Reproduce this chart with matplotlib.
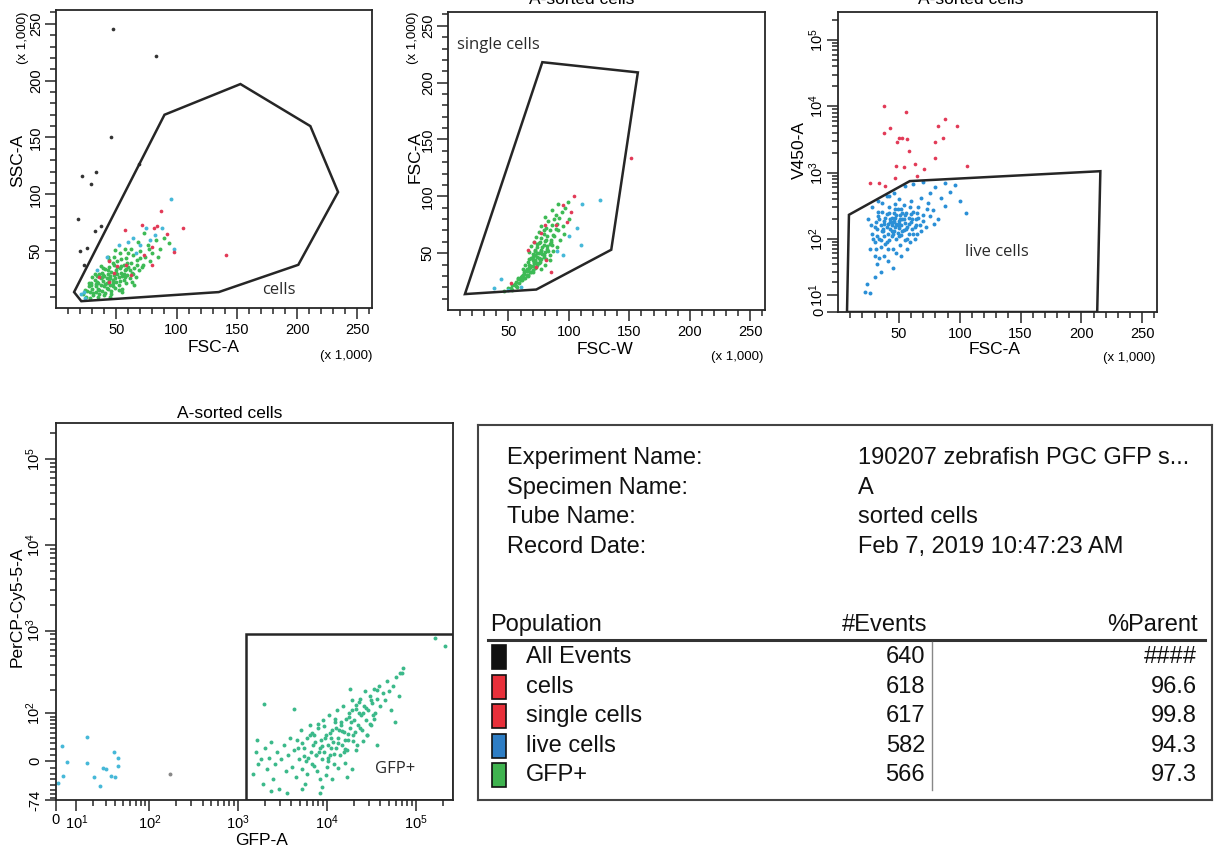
import numpy as np
import matplotlib.pyplot as plt
from matplotlib.patches import Polygon, Rectangle

plt.rcParams['font.family'] = ['Liberation Sans', 'DejaVu Sans']
plt.rcParams['mathtext.fontset'] = 'custom'
plt.rcParams['mathtext.rm'] = 'Liberation Sans'
plt.rcParams['mathtext.it'] = 'Liberation Sans:italic'
plt.rcParams['mathtext.bf'] = 'Liberation Sans:bold'

# ---------------- gates (FSC / SSC values in thousands) ----------------
cells_gate_x = [15, 21, 135, 201, 234, 211, 153, 90]
cells_gate_y = [14, 6, 14, 38, 102, 160, 197, 170]
single_gate_x = [14, 73, 135, 157, 78]
single_gate_y = [14, 18, 53, 209, 218]
live_gate_x = [7.4, 9, 59, 215.6, 213]
live_gate_y = [0, 232, 747, 1053, 0]
gfp_gate_x = [1230, 1230, 262144, 262144]
gfp_gate_y = [-74, 900, 900, -74]

# ---------------- panel 1: FSC-A vs SSC-A (x1000) ----------------
p1_green_x = [22, 24, 25, 27, 28, 29, 30, 31, 32, 33, 33, 34, 35, 35, 36, 37, 37, 38, 38, 39,
              40, 40, 41, 41, 42, 42, 43, 43, 44, 44, 45, 45, 46, 46, 47, 47, 48, 48, 49, 49,
              50, 50, 51, 51, 52, 52, 53, 53, 54, 55, 55, 56, 56, 57, 58, 58, 59, 60, 61, 62,
              63, 64, 65, 66, 67, 69, 70, 72, 74, 76, 78, 80, 83, 86, 90, 94,
              39, 44, 30, 36, 48, 53, 62, 68, 57, 73, 46, 55, 65, 28,
              26, 29, 31, 34, 36, 39, 41, 43, 45, 47, 50, 52, 54, 57, 59, 61, 64, 67, 70,
              33, 38, 42, 47, 51, 56, 60, 27, 32, 37, 43, 49, 54, 58, 63, 71, 77, 85, 45, 40, 35]
p1_green_y = [12, 16, 10, 19, 14, 22, 17, 11, 25, 19, 14, 28, 22, 17, 12, 26, 20, 31, 15, 24,
              19, 28, 13, 34, 22, 26, 17, 30, 24, 36, 20, 28, 15, 32, 25, 22, 38, 29, 18, 26,
              33, 23, 30, 41, 20, 27, 35, 24, 31, 17, 28, 38, 25, 33, 22, 44, 29, 36, 26, 40,
              31, 47, 35, 27, 42, 33, 50, 38, 45, 55, 41, 48, 60, 52, 62, 57,
              35, 42, 27, 30, 45, 48, 52, 58, 52, 66, 12, 14, 20, 9,
              15, 20, 13, 23, 16, 29, 21, 33, 26, 19, 31, 16, 37, 27, 40, 33, 30, 38, 44,
              21, 27, 18, 40, 36, 30, 48, 22, 30, 37, 45, 51, 43, 34, 23, 36, 52, 45, 10, 11, 10]
p1_blue_x = [95, 21, 24, 70, 82, 60, 66, 75, 88, 98, 42, 52, 34, 23, 78, 64]
p1_blue_y = [96, 12, 9, 55, 64, 58, 48, 70, 70, 52, 45, 55, 33, 14, 60, 62]
p1_red_x = [57, 71, 81, 84, 87, 92, 105, 80, 98, 141, 73, 58, 51, 44, 62, 48, 36, 80, 44]
p1_red_y = [69, 73, 70, 72, 85, 65, 70, 54, 49, 47, 47, 38, 37, 41, 29, 31, 27, 38, 23]
p1_black_x = [47.5, 83, 45.6, 21.9, 33, 29, 18, 37, 32.6, 26, 20, 23.5, 69]
p1_black_y = [245, 222, 150, 116, 120, 109, 78, 72, 68, 53, 50, 38, 127]

# ---------------- panel 2: FSC-W vs FSC-A (x1000) ----------------
p2_green_x = [46, 50, 53, 53, 56, 59, 56, 61, 58, 64, 61, 66, 63, 68, 65, 70, 62, 67, 72, 69,
              64, 74, 71, 66, 76, 72, 67, 77, 69, 74, 79, 70, 75, 67, 80, 72, 77, 82, 74, 69,
              79, 84, 75, 71, 80, 85, 77, 73, 82, 87, 79, 75, 84, 89, 81, 77, 86, 90, 83, 88,
              92, 80, 89, 94, 86, 97, 91, 99,
              65, 70, 74, 78, 72, 76, 67, 63, 71, 74, 81, 72, 59, 66, 79, 68, 75, 62, 70, 77,
              55, 58, 62, 66, 70, 73, 76, 79, 83, 86, 60, 64, 68, 72, 75, 78, 82, 85, 88, 91,
              57, 63, 69, 73, 77, 81, 84, 87, 93, 95, 52, 55, 60, 65, 70, 80, 84, 90, 96, 100]
p2_green_y = [17, 19, 18, 22, 21, 24, 25, 26, 28, 28, 30, 31, 32, 33, 34, 35, 36, 37, 37, 39,
              40, 40, 41, 42, 42, 44, 45, 45, 46, 47, 48, 49, 50, 51, 51, 52, 53, 54, 55, 56,
              57, 58, 59, 60, 61, 62, 63, 64, 65, 66, 67, 69, 70, 71, 72, 74, 75, 76, 78, 80,
              81, 82, 84, 86, 88, 90, 93, 95,
              36, 44, 50, 55, 48, 60, 40, 33, 42, 58, 62, 53, 27, 30, 70, 38, 46, 29, 47, 52,
              23, 27, 31, 35, 39, 41, 44, 47, 52, 57, 29, 34, 38, 43, 41, 49, 56, 60, 65, 70,
              20, 28, 33, 38, 36, 45, 48, 52, 62, 74, 19, 22, 26, 31, 33, 40, 44, 55, 67, 80]
p2_blue_x = [126, 111, 44, 38, 107, 110, 90, 100, 60, 50, 95]
p2_blue_y = [97, 93, 27, 19, 72, 57, 52, 65, 20, 18, 48]
p2_red_x = [104, 95, 102, 98, 80, 89, 77, 71, 66, 81, 52, 151, 85, 73]
p2_red_y = [100, 92, 86, 77, 75, 75, 68, 60, 53, 44, 24, 134, 33, 38]

# ---------------- panel 3: FSC-A (x1000) vs V450-A ----------------
p3_blue_x = [28, 30, 31, 32, 33, 34, 35, 35, 36, 37, 38, 38, 39, 40, 40, 41, 41, 42, 42, 43,
             43, 44, 44, 45, 45, 46, 46, 47, 47, 48, 48, 49, 49, 50, 50, 51, 51, 52, 52, 53,
             54, 54, 55, 55, 56, 57, 58, 58, 60, 60, 61, 62, 63, 64, 66, 67, 68, 70, 72, 74,
             76, 78, 80, 82, 85, 88, 92, 96, 100, 105,
             22, 24, 26, 30, 32, 35, 38, 41, 45, 48, 30, 26, 34, 52, 57,
             28, 25, 33, 40, 46, 55, 62, 70, 88, 50, 36, 42,
             30, 32, 34, 36, 38, 40, 42, 44, 46, 48, 50, 52, 54, 56, 58, 60, 62, 64, 66, 68,
             31, 33, 37, 39, 43, 45, 47, 49, 51, 53, 55, 57, 59, 61, 63, 65, 70, 73, 76, 79,
             27, 29, 35, 41, 47, 53, 59, 65, 44, 50]
p3_blue_y = [120, 90, 180, 140, 220, 100, 160, 75, 260, 130, 190, 110, 85, 150, 240, 170, 120, 95, 300, 200,
             140, 160, 110, 180, 70, 130, 250, 150, 210, 100, 170, 125, 280, 190, 145, 80, 230, 160, 115, 200,
             135, 330, 175, 95, 250, 150, 210, 120, 180, 380, 140, 260, 100, 200, 300, 160, 420, 230, 150, 350,
             500, 270, 600, 200, 420, 320, 520, 650, 380, 250,
             12, 18, 11, 25, 40, 30, 55, 45, 35, 60, 55, 70, 50, 55, 70,
             300, 200, 380, 440, 500, 620, 680, 720, 700, 400, 350, 450,
             150, 110, 200, 130, 170, 90, 250, 130, 190, 230, 110, 280, 200, 140, 170, 240, 120, 160, 210, 130,
             70, 260, 140, 210, 180, 120, 280, 160, 200, 130, 230, 100, 300, 200, 150, 250, 190, 280, 220, 170,
             160, 100, 95, 70, 340, 250, 90, 120, 210, 170]
p3_red_x = [37.7, 55.7, 87.7, 98, 82, 42.6, 37.7, 50, 52.5, 56.6, 48.4, 80, 86, 58, 80, 63, 47.5,
            54, 71, 106, 46.7, 26, 34, 38.5, 65]
p3_red_y = [10200, 8260, 6500, 5100, 5100, 4770, 3900, 3270, 3270, 3200, 2860, 2860, 3270, 2100,
            1650, 1340, 1250, 1200, 1130, 1250, 830, 700, 700, 625, 880]

# ---------------- panel 4: GFP-A vs PerCP-Cy5-5-A ----------------
p4_green_x = [1480, 1600, 1690, 1830, 1930, 2030, 2130, 2250, 2370, 2500, 2630, 2780, 2930, 3090,
              3260, 3430, 3620, 3820, 4020,
              4240, 4460, 4580, 4830, 5080, 5220, 5500, 5650, 5950, 6110, 6430, 6770, 6950, 7130,
              7510, 7710, 7910, 8330, 8550, 8770, 9000, 9250, 9780, 10060, 10330, 10600, 10880,
              11460, 11760, 12070, 12390, 12720, 13050, 13400, 14120, 14490, 14870, 15260, 15670,
              16470, 16900, 17340, 17800, 18260, 19260,
              19780, 20300, 21400, 21960, 22540, 23740, 24370, 25000, 26400, 27000, 27800, 29300,
              30800, 31600, 32400, 34100, 35000, 36900, 38900, 39900, 42400, 44700, 47100, 49600,
              52300, 55100, 59500, 64500, 69800,
              166000, 214000, 71500, 67000, 1980, 4240, 18260, 2370, 3520, 5220, 8770, 11460,
              19260, 16900, 36900, 58000, 1640, 8330,
              7320, 8120, 9500, 11170, 13760, 16060, 18750, 20850, 6600, 10330, 12720, 15670,
              23100, 28500, 5800, 4700,
              5300, 6000, 6800, 7600, 8400, 9300, 10200, 11200, 12300, 13500, 14800, 16200, 17800,
              19500, 21400, 23500, 25800, 28300, 31000, 34000, 5600, 6400, 7200, 8000, 8900, 9900,
              10900, 12000, 13200, 14500, 15900, 17500, 19200, 21000, 23000, 25200, 27600, 30200,
              33000, 37000]
p4_green_y = [-21, 16, -5, 3, -38, 22, -13, 6, 33, -29, -5, 16, -48, 3, 28, -16, 11, 40, -9.5,
              19, -26, 37, 3, 56, -13, 22, -38, 40, 6, 68, -5, 28, 46, 11, -16, 61, 22, 37, 3,
              80, 16, 46, -9.5, 28, 94, 11, 56, 33, -5, 75, 22, 110, 40, 11, 68, 28, 127, 52, 85,
              19, 37, 103, 61, 148,
              46, 80, 116, 28, 68, 155, 94, 56, 127, 194, 80, 110, 170, 68, 138, 204, 103, 155,
              222, 127, 182, 148, 254, 194, 110, 222, 282, 170, 322,
              830, 659, 360, 315, 134, 116, 204, -54, -58, -48, -44, -29, -13, -26, 28, 75, 37, -58,
              33, 16, 40, 22, 56, 37, 75, 52, 16, 6, 61, 16, 103, 46, 0, 22,
              30, -20, 50, 10, -30, 65, 0, 40, 85, -10, 55, 20, 90, 35, 130, 60, 100, 45, 150, 85,
              8, 45, -8, 70, 25, -22, 50, 12, 30, 75, -2, 48, 110, 18, 140, 35, 120, 70, 95, 200]
p4_blue_x = [2.8, 5.3, 0.9, 16, 16, 21, 25, 28, 30, 38, 43, 43, 35, 39, 3.3]
p4_blue_y = [26, -1.6, -36, 42, -3, -26, -42, -11, -13, 16, 6, -8, -24, -26, -24]
p4_gray_x = [172]
p4_gray_y = [-20]

# ---------------- statistics table ----------------
info_labels = ['Experiment Name:', 'Specimen Name:', 'Tube Name:', 'Record Date:']
info_values = ['190207 zebrafish PGC GFP s...', 'A', 'sorted cells', 'Feb 7, 2019 10:47:23 AM']
pop_names = ['All Events', 'cells', 'single cells', 'live cells', 'GFP+']
pop_events = ['640', '618', '617', '582', '566']
pop_parent = ['####', '96.6', '99.8', '94.3', '97.3']
pop_colors = ['#111111', '#e8303a', '#e8303a', '#2d7dc4', '#3fb34f']

DOT_GREEN = '#3dba55'
DOT_TEAL = '#3bb98a'
DOT_BLUE = '#2a8fd6'
DOT_CYAN = '#46b8d8'
DOT_RED = '#e23a57'
DOT_BLACK = '#333333'
LINE = '#262626'

W, H = 1215, 847
fig = plt.figure(figsize=(12.15, 8.47), dpi=100)


def box(x0, y0, x1, y1):
    return [x0 / W, 1 - y1 / H, (x1 - x0) / W, (y1 - y0) / H]


def ftext(px, py, s, **kw):
    fig.text(px / W, 1 - py / H, s, **kw)


def asinh_fns(c):
    return (lambda v: np.arcsinh(np.asarray(v, float) / c),
            lambda u: c * np.sinh(np.asarray(u, float)))


def style(ax, xpad=3, ypad=1.5):
    for sp in ax.spines.values():
        sp.set_linewidth(1.3)
        sp.set_color(LINE)
    ax.tick_params(which='both', direction='out', width=1.1, color=LINE,
                   top=False, right=False)
    ax.tick_params(which='major', length=8)
    ax.tick_params(which='minor', length=4.5)
    ax.tick_params(axis='x', pad=xpad, labelsize=10.5)
    ax.tick_params(axis='y', pad=ypad, labelsize=10.5)
    plt.setp(ax.get_yticklabels(), rotation=90, va='center')


LIN_MAJOR = [50, 100, 150, 200, 250]
LIN_MINOR = list(range(10, 261, 10))


def lin_axis(axis):
    axis.set_ticks(LIN_MAJOR, labels=[str(v) for v in LIN_MAJOR])
    axis.set_ticks(LIN_MINOR, minor=True)


def dec(n):
    return r'$\mathregular{10^{%d}}$' % n


def log_minors(first, last):
    return [m * 10 ** d for d in range(first, last + 1) for m in range(2, 10)]


def dots(ax, x, y, color, s=8):
    ax.scatter(x, y, s=s, c=color, linewidths=0, zorder=2)


def gate(ax, gx, gy):
    ax.add_patch(Polygon(np.column_stack([gx, gy]), closed=True, fill=False,
                         ec=LINE, lw=1.8, zorder=3))


gate_font = dict(fontfamily='Open Sans', fontsize=12, color='#2a2a2a', zorder=4)

# ---- panel 1 ----
ax1 = fig.add_axes(box(56, 10, 372, 308))
ax1.set_xlim(0, 262.144)
ax1.set_ylim(0, 262.144)
dots(ax1, p1_black_x, p1_black_y, DOT_BLACK, s=7)
dots(ax1, p1_green_x, p1_green_y, DOT_GREEN)
dots(ax1, p1_blue_x, p1_blue_y, DOT_CYAN)
dots(ax1, p1_red_x, p1_red_y, DOT_RED, s=7)
gate(ax1, cells_gate_x, cells_gate_y)
ax1.text(171, 15.5, 'cells', ha='left', va='center', **gate_font)
lin_axis(ax1.xaxis)
lin_axis(ax1.yaxis)
style(ax1)
ftext(214, 347, 'FSC-A', ha='center', va='center', size=12.5)
ftext(18, 160, 'SSC-A', ha='center', va='center', rotation=90, size=12.5)
ftext(372, 356, '(x 1,000)', ha='right', va='center', size=9.5)
ftext(23, 38, '(x 1,000)', ha='center', va='center', rotation=90, size=9.5)

# ---- panel 2 ----
ax2 = fig.add_axes(box(448, 12, 765, 310))
ax2.set_xlim(0, 262.144)
ax2.set_ylim(0, 262.144)
dots(ax2, p2_green_x, p2_green_y, DOT_GREEN)
dots(ax2, p2_blue_x, p2_blue_y, DOT_CYAN)
dots(ax2, p2_red_x, p2_red_y, DOT_RED, s=7)
gate(ax2, single_gate_x, single_gate_y)
ax2.text(7.4, 233, 'single cells', ha='left', va='center', **gate_font)
lin_axis(ax2.xaxis)
lin_axis(ax2.yaxis)
style(ax2)
ftext(605, 350, 'FSC-W', ha='center', va='center', size=12.5)
ftext(415, 157, 'FSC-A', ha='center', va='center', rotation=90, size=12.5)
ftext(763, 357, '(x 1,000)', ha='right', va='center', size=9.5)
ftext(413, 38, '(x 1,000)', ha='center', va='center', rotation=90, size=9.5)
ftext(582, 4, 'A-sorted cells', ha='center', va='baseline', size=12.5)

# ---- panel 3 ----
ax3 = fig.add_axes(box(838, 12, 1157, 312))
ax3.set_yscale('function', functions=asinh_fns(16))
ax3.set_xlim(0, 262.144)
ax3.set_ylim(0, 262144)
dots(ax3, p3_blue_x, p3_blue_y, DOT_BLUE)
dots(ax3, p3_red_x, p3_red_y, DOT_RED, s=7)
gate(ax3, live_gate_x, live_gate_y)
ax3.text(104, 62, 'live cells', ha='left', va='center', **gate_font)
lin_axis(ax3.xaxis)
ax3.yaxis.set_ticks([0, 10, 100, 1000, 10000, 100000],
                    labels=['0', dec(1), dec(2), dec(3), dec(4), dec(5)])
ax3.yaxis.set_ticks(log_minors(1, 4) + [200000], minor=True)
style(ax3, ypad=0.5)
ftext(995, 350, 'FSC-A', ha='center', va='center', size=12.5)
ftext(799, 150, 'V450-A', ha='center', va='center', rotation=90, size=12.5)
ftext(1155, 358, '(x 1,000)', ha='right', va='center', size=9.5)
ftext(971, 4, 'A-sorted cells', ha='center', va='baseline', size=12.5)

# ---- panel 4 ----
ax4 = fig.add_axes(box(56, 423, 453, 800))
ax4.set_xscale('function', functions=asinh_fns(18))
ax4.set_yscale('function', functions=asinh_fns(60))
ax4.set_xlim(0, 262144)
ax4.set_ylim(-74, 262144)
dots(ax4, p4_blue_x, p4_blue_y, DOT_CYAN)
dots(ax4, p4_gray_x, p4_gray_y, '#888888')
dots(ax4, p4_green_x, p4_green_y, DOT_TEAL)
gate(ax4, gfp_gate_x, gfp_gate_y)
ax4.text(35000, -12, 'GFP+', ha='left', va='center', **gate_font)
ax4.xaxis.set_ticks([0, 10, 100, 1000, 10000, 100000],
                    labels=['0', dec(1), dec(2), dec(3), dec(4), dec(5)])
ax4.xaxis.set_ticks(log_minors(1, 4) + [200000], minor=True)
ax4.yaxis.set_ticks([-74, 0, 100, 1000, 10000, 100000],
                    labels=['-74', '0', dec(2), dec(3), dec(4), dec(5)])
ax4.yaxis.set_ticks(list(range(-70, 0, 10)) + list(range(10, 100, 10))
                    + log_minors(2, 4) + [200000], minor=True)
style(ax4, xpad=1.5)
ftext(230, 413, 'A-sorted cells', ha='center', va='center', size=12.5)
ftext(262, 840, 'GFP-A', ha='center', va='center', size=12.5)
ftext(17, 607, 'PerCP-Cy5-5-A', ha='center', va='center', rotation=90, size=12.5)

# ---- statistics table ----
axt = fig.add_axes(box(478, 425, 1212, 800))
axt.set_xlim(478, 1212)
axt.set_ylim(800, 425)
axt.set_xticks([])
axt.set_yticks([])
for sp in axt.spines.values():
    sp.set_linewidth(1.5)
    sp.set_color('#444444')

TS = 17
info_y = [458, 488, 517, 547]
for yy, lab, val in zip(info_y, info_labels, info_values):
    axt.text(507, yy, lab, ha='left', va='center', size=TS, color='#111111')
    axt.text(858, yy, val, ha='left', va='center', size=TS, color='#111111')

axt.text(490, 625, 'Population', ha='left', va='center', size=TS, color='#111111')
axt.text(927, 625, '#Events', ha='right', va='center', size=TS, color='#111111')
axt.text(1198, 625, '%Parent', ha='right', va='center', size=TS, color='#111111')
axt.plot([488, 1205], [640, 640], color='#333333', lw=2.2)
axt.plot([932, 932], [642, 790], color='#888888', lw=1)

row_y = [657, 687, 716, 746, 775]
for yy, name, ev, par, col in zip(row_y, pop_names, pop_events, pop_parent, pop_colors):
    axt.add_patch(Rectangle((492, yy - 12), 14, 24, fc=col, ec='#111111', lw=1.2))
    axt.text(526, yy, name, ha='left', va='center', size=TS, color='#111111')
    axt.text(925, yy, ev, ha='right', va='center', size=TS, color='#111111')
    axt.text(1197, yy, par, ha='right', va='center', size=TS, color='#111111')

fig.savefig('out.png', dpi=100)
